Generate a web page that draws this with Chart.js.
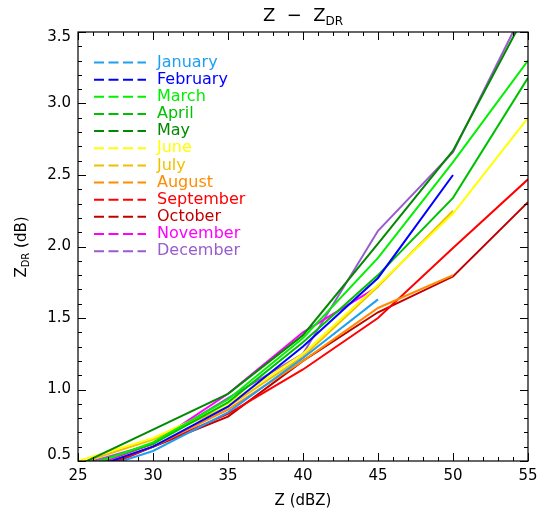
<!DOCTYPE html>
<html><head><meta charset="utf-8">
<script src="https://cdn.jsdelivr.net/npm/chart.js@4/dist/chart.umd.min.js"></script>
<style>html,body{margin:0;padding:0;background:#fff}</style>
</head><body>
<canvas id="c" width="541" height="514"></canvas>
<script>
// ---- data ----
const zValues = [25, 30, 35, 40, 45, 50, 55];
const months = ['January','February','March','April','May','June','July','August','September','October','November','December'];
const monthColors = ['#1ea0f0','#0000ff','#00f000','#00c000','#008a00','#ffff00','#f0c000','#ff8c00','#ff0000','#c00000','#ff00ff','#9a5ccc'];
const january   = [0.40, 0.57, 0.84, 1.22, 1.63, null, null];
const february  = [0.42, 0.60, 0.88, 1.30, 1.78, 2.50, null];
const march     = [0.44, 0.63, 0.93, 1.36, 1.92, 2.59, 3.30];
const april     = [0.45, 0.62, 0.91, 1.33, 1.80, 2.34, 3.18];
const may       = [0.47, 0.72, 0.97, 1.38, 2.02, 2.67, 3.66];
const june      = [0.50, 0.66, 0.90, 1.25, 1.73, 2.23, 2.90];
const july      = [0.48, 0.65, 0.88, 1.23, 1.72, 2.25, null];
const august    = [0.42, 0.60, 0.86, 1.20, 1.57, 1.80, null];
const september = [0.38, 0.60, 0.83, 1.14, 1.50, 1.99, 2.47];
const october   = [0.40, 0.60, 0.81, 1.20, 1.54, 1.79, 2.31];
const november  = [0.43, 0.62, 0.97, 1.40, 1.72, null, null];
const december  = [0.47, 0.62, 0.94, 1.25, 2.11, 2.66, 3.71];
const seriesValues = [january,february,march,april,may,june,july,august,september,october,november,december];
const xTickLabels = [25, 30, 35, 40, 45, 50, 55];
const yTickLabels = ['0.5','1.0','1.5','2.0','2.5','3.0','3.5'];

const FONT = '"DejaVu Sans", sans-serif';

const datasets = seriesValues.map((vals, i) => ({
  label: months[i],
  data: zValues.map((z, j) => ({x: z, y: vals[j]})),
  borderColor: monthColors[i],
  backgroundColor: monthColors[i],
  borderWidth: 2,
  pointRadius: 0,
  tension: 0,
  fill: false,
  spanGaps: false,
  clip: 0
}));

const idlAxes = {
  id: 'idlAxes',
  afterDraw(chart) {
    const ctx = chart.ctx;
    const a = chart.chartArea;
    const xs = chart.scales.x, ys = chart.scales.y;
    ctx.save();
    ctx.strokeStyle = '#000';
    ctx.lineWidth = 1.2;
    ctx.strokeRect(a.left, a.top, a.right - a.left, a.bottom - a.top);
    ctx.lineWidth = 1;
    // x ticks
    for (let v = xs.min; v <= xs.max + 1e-9; v += 1) {
      const px = Math.round(xs.getPixelForValue(v)) + 0.5;
      const major = Math.abs(v % 5) < 1e-9;
      const len = major ? 8 : 4;
      ctx.beginPath();
      ctx.moveTo(px, a.bottom); ctx.lineTo(px, a.bottom - len);
      ctx.moveTo(px, a.top); ctx.lineTo(px, a.top + len);
      ctx.stroke();
    }
    // y ticks
    for (let k = 0; k <= 30; k++) {
      const v = ys.min + k * 0.1;
      const py = Math.round(ys.getPixelForValue(v)) + 0.5;
      const len = (k % 5 === 0) ? 8 : 4;
      ctx.beginPath();
      ctx.moveTo(a.left, py); ctx.lineTo(a.left + len, py);
      ctx.moveTo(a.right, py); ctx.lineTo(a.right - len, py);
      ctx.stroke();
    }
    // tick labels
    ctx.fillStyle = '#000';
    ctx.font = '15px ' + FONT;
    ctx.textAlign = 'center';
    ctx.textBaseline = 'middle';
    xTickLabels.forEach(t => ctx.fillText(String(t), xs.getPixelForValue(t), a.bottom + 15));
    ctx.textAlign = 'right';
    yTickLabels.forEach((t, i) => {
      let py = ys.getPixelForValue(parseFloat(t));
      if (i === 0) py -= 6;
      if (i === yTickLabels.length - 1) py += 5;
      ctx.fillText(t, a.left - 7, py);
    });
    // x title
    ctx.textAlign = 'center';
    ctx.fillText('Z (dBZ)', (a.left + a.right) / 2, a.bottom + 40);
    // y title rotated with subscript
    ctx.save();
    ctx.translate(22, 247);
    ctx.rotate(-Math.PI / 2);
    drawSub(ctx, 'Z', 'DR', ' (dB)', 0, 0, 15, 10);
    ctx.restore();
    // title
    drawSub(ctx, 'Z  \u2212  Z', 'DR', '', (a.left + a.right) / 2, 16, 18, 12);
    // legend
    ctx.font = '16px ' + FONT;
    ctx.textAlign = 'left';
    ctx.textBaseline = 'middle';
    months.forEach((m, i) => {
      const y = 62.5 + i * 17.15;
      ctx.strokeStyle = monthColors[i];
      ctx.lineWidth = 2;
      ctx.setLineDash([10, 4.5]);
      ctx.beginPath();
      ctx.moveTo(94, y); ctx.lineTo(146, y);
      ctx.stroke();
      ctx.setLineDash([]);
      ctx.fillStyle = monthColors[i];
      ctx.fillText(m, 157, y);
    });
    ctx.restore();
  }
};

function drawSub(ctx, main, sub, after, cx, cy, size, subSize) {
  ctx.textBaseline = 'middle';
  ctx.textAlign = 'left';
  ctx.font = size + 'px ' + FONT;
  const w1 = ctx.measureText(main).width;
  const w3 = ctx.measureText(after).width;
  ctx.font = subSize + 'px ' + FONT;
  const w2 = ctx.measureText(sub).width;
  const total = w1 + w2 + w3;
  let x = cx - total / 2;
  ctx.fillStyle = '#000';
  ctx.font = size + 'px ' + FONT;
  ctx.fillText(main, x, cy);
  x += w1;
  ctx.font = subSize + 'px ' + FONT;
  ctx.fillText(sub, x, cy + size * 0.3);
  x += w2;
  ctx.font = size + 'px ' + FONT;
  ctx.fillText(after, x, cy);
}

new Chart(document.getElementById('c'), {
  type: 'line',
  data: { datasets },
  options: {
    responsive: false,
    animation: false,
    layout: { padding: { left: 78, right: 13, top: 32, bottom: 53 } },
    scales: {
      x: { type: 'linear', min: 25, max: 55, display: false },
      y: { type: 'linear', min: 0.5, max: 3.5, display: false }
    },
    plugins: { legend: { display: false }, title: { display: false }, tooltip: { enabled: false } }
  },
  plugins: [idlAxes]
});
</script>
</body></html>
